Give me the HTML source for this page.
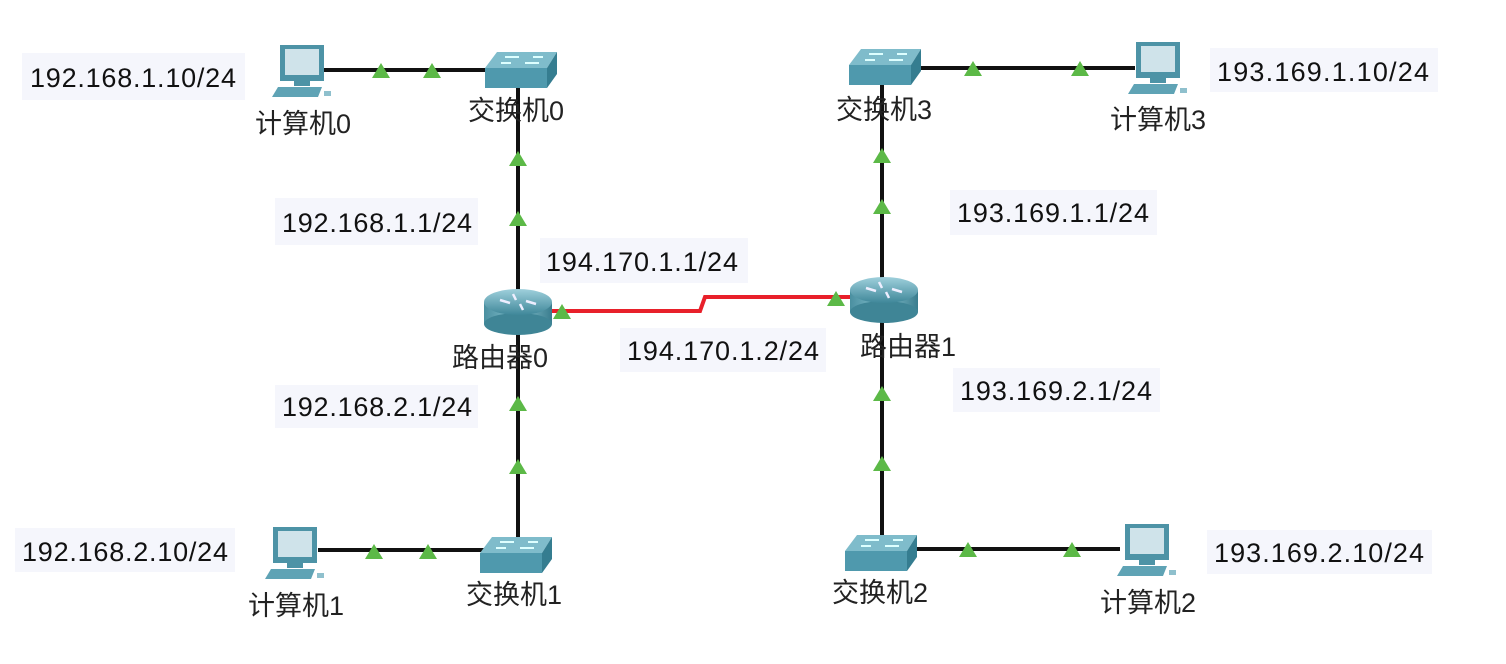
<!DOCTYPE html>
<html><head><meta charset="utf-8"><style>
html,body{margin:0;padding:0;background:#fff;}
svg{display:block;}
.ip{font-family:"Liberation Sans",sans-serif;font-size:27px;fill:#111;}
.lb{font-family:"Liberation Sans","Noto Sans CJK SC",sans-serif;font-size:27px;fill:#222;}
</style></head><body>
<svg width="1506" height="664" viewBox="0 0 1506 664" xmlns="http://www.w3.org/2000/svg">
<defs>
<linearGradient id="rg" x1="0" y1="0" x2="0" y2="1"><stop offset="0" stop-color="#9fd0dc"/><stop offset="1" stop-color="#3f8799"/></linearGradient>
<linearGradient id="rs" x1="0" y1="0" x2="1" y2="0"><stop offset="0" stop-color="#4a8fa0"/><stop offset="0.5" stop-color="#8cc6d3"/><stop offset="1" stop-color="#3a7d8e"/></linearGradient>
<g id="pc">
<rect x="8" y="0" width="44" height="36" fill="#4d93a6"/>
<rect x="13" y="4" width="34" height="26" fill="#cfe3ea"/>
<rect x="22" y="36" width="16" height="5" fill="#4d93a6"/>
<polygon points="6,42 50,42 46,52 0,52" fill="#5fa3b5"/>
<rect x="52" y="46" width="7" height="5" fill="#8fc0cd"/>
</g>
<g id="sw">
<polygon points="12,0 72,0 62,16 0,16" fill="#7fbccb"/>
<polygon points="0,16 62,16 62,36 0,36" fill="#4f99ad"/>
<polygon points="62,16 72,0 72,22 62,36" fill="#357d90"/>
<path d="M20,5 h14 M40,11 h14 M26,11 h-10 M48,5 h10" stroke="#dff" stroke-width="2"/>
</g>
<g id="rt">
<rect x="-34" y="-6" width="68" height="22" fill="url(#rs)"/>
<ellipse cx="0" cy="16" rx="34" ry="11" fill="#3f8596"/>
<ellipse cx="0" cy="-6" rx="34" ry="13" fill="url(#rg)"/>
<path d="M-18,-8 l10,3 M18,-4 l-10,-3 M-5,-14 l3,6 M5,2 l-3,-6" stroke="#eef" stroke-width="2.5"/>
</g>
</defs>

<g stroke="#111" stroke-width="4">
<line x1="320" y1="70" x2="490" y2="70"/>
<line x1="518" y1="85" x2="518" y2="540"/>
<line x1="915" y1="68" x2="1135" y2="68"/>
<line x1="882" y1="82" x2="882" y2="540"/>
<line x1="318" y1="550" x2="485" y2="550"/>
<line x1="915" y1="549" x2="1120" y2="549"/>
</g>
<polyline points="550,311 700,311 705,297 852,297" fill="none" stroke="#e8202a" stroke-width="4"/>

<use href="#pc" x="272" y="45"/>
<use href="#pc" x="265" y="527"/>
<use href="#pc" x="1117" y="524"/>
<use href="#pc" x="1128" y="42"/>
<use href="#sw" x="485" y="52"/>
<use href="#sw" x="480" y="537"/>
<use href="#sw" x="845" y="535"/>
<use href="#sw" x="849" y="49"/>
<use href="#rt" x="518" y="308"/>
<use href="#rt" x="884" y="296"/>

<g fill="#5cb947">
<polygon points="381,63 372,78 390,78"/>
<polygon points="432,63 423,78 441,78"/>
<polygon points="518,151 509,166 527,166"/>
<polygon points="518,211 509,226 527,226"/>
<polygon points="518,396 509,411 527,411"/>
<polygon points="518,459 509,474 527,474"/>
<polygon points="374,544 365,559 383,559"/>
<polygon points="428,544 419,559 437,559"/>
<polygon points="882,148 873,163 891,163"/>
<polygon points="882,199 873,214 891,214"/>
<polygon points="882,386 873,401 891,401"/>
<polygon points="882,456 873,471 891,471"/>
<polygon points="973,61 964,76 982,76"/>
<polygon points="1080,61 1071,76 1089,76"/>
<polygon points="968,542 959,557 977,557"/>
<polygon points="1072,542 1063,557 1081,557"/>
<polygon points="562,304 553,319 571,319"/>
<polygon points="836,291 827,306 845,306"/>
</g>

<g fill="#f5f6fc">
<rect x="22" y="53" width="223" height="47"/>
<rect x="275" y="198" width="203" height="47"/>
<rect x="540" y="238" width="208" height="45"/>
<rect x="620" y="328" width="206" height="44"/>
<rect x="275" y="385" width="203" height="43"/>
<rect x="15" y="528" width="220" height="44"/>
<rect x="1210" y="48" width="228" height="44"/>
<rect x="950" y="190" width="207" height="45"/>
<rect x="953" y="368" width="207" height="44"/>
<rect x="1207" y="530" width="225" height="44"/>
</g>
<text class="ip" x="30" y="87" textLength="206">192.168.1.10/24</text>
<text class="ip" x="282" y="232" textLength="190">192.168.1.1/24</text>
<text class="ip" x="546" y="271" textLength="192">194.170.1.1/24</text>
<text class="ip" x="627" y="360" textLength="192">194.170.1.2/24</text>
<text class="ip" x="282" y="416" textLength="190">192.168.2.1/24</text>
<text class="ip" x="22" y="561" textLength="206">192.168.2.10/24</text>
<text class="ip" x="1217" y="81" textLength="212">193.169.1.10/24</text>
<text class="ip" x="957" y="222" textLength="192">193.169.1.1/24</text>
<text class="ip" x="960" y="400" textLength="192">193.169.2.1/24</text>
<text class="ip" x="1214" y="562" textLength="210">193.169.2.10/24</text>

<text class="lb" x="255" y="133">计算机0</text>
<text class="lb" x="468" y="120">交换机0</text>
<text class="lb" x="452" y="367">路由器0</text>
<text class="lb" x="860" y="356">路由器1</text>
<text class="lb" x="836" y="119">交换机3</text>
<text class="lb" x="1110" y="129">计算机3</text>
<text class="lb" x="466" y="604">交换机1</text>
<text class="lb" x="248" y="615">计算机1</text>
<text class="lb" x="832" y="602">交换机2</text>
<text class="lb" x="1100" y="612">计算机2</text>
</svg>
</body></html>
